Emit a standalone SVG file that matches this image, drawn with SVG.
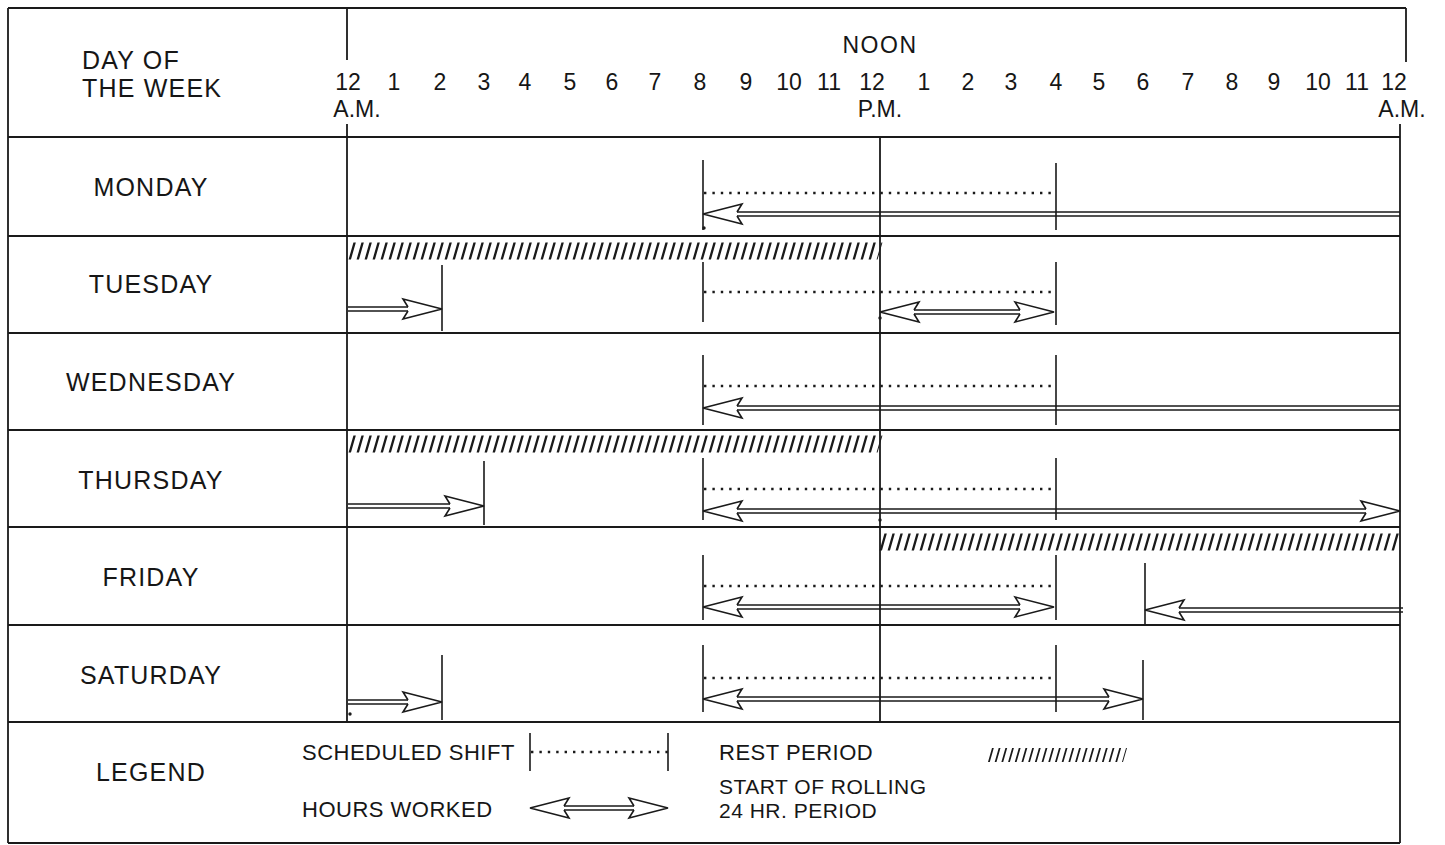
<svg xmlns="http://www.w3.org/2000/svg" xmlns:xlink="http://www.w3.org/1999/xlink" width="1445" height="845" viewBox="0 0 1445 845">
<style>
.t{font-family:"Liberation Sans",Arial,Helvetica,sans-serif;fill:#161616}
.lbl{font-size:25px;text-anchor:middle;letter-spacing:1.2px}
.num{font-size:23px;text-anchor:middle}
.leg{font-size:22px;letter-spacing:0.5px}
.frame{stroke:#1a1a1a;stroke-width:1.8;fill:none}
.tick{stroke:#1a1a1a;stroke-width:1.6;fill:none}
.dot{stroke:#1a1a1a;stroke-width:2.6;stroke-dasharray:2.4 6;fill:none}
.shaft{stroke:#1a1a1a;stroke-width:1.4;fill:none}
.head{fill:#fff;stroke:#1a1a1a;stroke-width:1.6;stroke-linejoin:miter}
.hatch{stroke:#1a1a1a;stroke-width:17;stroke-dasharray:2.4 5.6;fill:none}
.mark{fill:#1a1a1a}
</style>
<defs>
<path id="hl" class="head" d="M34,-2 L39,-10 L0,0 L39,10 L34,2"/>
<path id="hr" class="head" d="M-34,-2 L-39,-10 L0,0 L-39,10 L-34,2"/>
</defs>
<rect width="1445" height="845" fill="#fff"/>

<g id="grid">
<path class="frame" d="M8,8 H1406 M8,8 V843 M8,137 H1400 M8,236 H1400 M8,333 H1400 M8,430 H1400 M8,527 H1400 M8,625 H1400 M8,722 H1400 M8,843 H1400"/>
<path class="frame" d="M1406,8 V62 M1400,124 V843 M347,8 V60 M347,124 V722 M880,137 V722"/>
</g>

<g id="header">
<text class="t lbl" x="82" y="69" style="text-anchor:start">DAY OF</text>
<text class="t lbl" x="82" y="97" style="text-anchor:start">THE WEEK</text>
<text class="t num" x="880" y="53" style="letter-spacing:1.5px">NOON</text>
<g class="t num">
<text x="348" y="90">12</text><text x="394" y="90">1</text><text x="440" y="90">2</text><text x="484" y="90">3</text>
<text x="525" y="90">4</text><text x="570" y="90">5</text><text x="612" y="90">6</text><text x="655" y="90">7</text>
<text x="700" y="90">8</text><text x="746" y="90">9</text><text x="789" y="90">10</text><text x="829" y="90">11</text>
<text x="872" y="90">12</text><text x="924" y="90">1</text><text x="968" y="90">2</text><text x="1011" y="90">3</text>
<text x="1056" y="90">4</text><text x="1099" y="90">5</text><text x="1143" y="90">6</text><text x="1188" y="90">7</text>
<text x="1232" y="90">8</text><text x="1274" y="90">9</text><text x="1318" y="90">10</text><text x="1357" y="90">11</text>
<text x="1394" y="90">12</text>
</g>
<text class="t num" x="357" y="117">A.M.</text>
<text class="t num" x="880" y="117">P.M.</text>
<text class="t num" x="1402" y="117">A.M.</text>
</g>

<g id="monday">
<text class="t lbl" x="151" y="196">MONDAY</text>
<path class="tick" d="M703,160 V230 M1056,163 V230"/>
<path class="dot" d="M704,193 H1056"/>
<path class="shaft" d="M737,212 H1400 M737,216 H1400"/>
<use xlink:href="#hl" x="703" y="214"/>
<circle class="mark" cx="704" cy="228" r="1.7"/>
</g>

<g id="tuesday">
<text class="t lbl" x="151" y="293">TUESDAY</text>
<g transform="translate(0,251) skewX(-16)"><path class="hatch" d="M351,0 H880"/></g>
<path class="tick" d="M442,265 V331 M703,262 V322 M1056,262 V325"/>
<path class="dot" d="M704,292 H1056"/>
<path class="shaft" d="M348,307 H408 M348,311 H408"/>
<use xlink:href="#hr" x="442" y="309"/>
<path class="shaft" d="M914,310 H1020 M914,314 H1020"/>
<use xlink:href="#hl" x="880" y="312"/>
<use xlink:href="#hr" x="1054" y="312"/>
<circle class="mark" cx="880" cy="318" r="1.7"/>
</g>

<g id="wednesday">
<text class="t lbl" x="151" y="391">WEDNESDAY</text>
<path class="tick" d="M703,355 V425 M1056,355 V425"/>
<path class="dot" d="M704,386 H1056"/>
<path class="shaft" d="M737,406 H1400 M737,410 H1400"/>
<use xlink:href="#hl" x="703" y="408"/>
</g>

<g id="thursday">
<text class="t lbl" x="151" y="489">THURSDAY</text>
<g transform="translate(0,444) skewX(-16)"><path class="hatch" d="M351,0 H880"/></g>
<path class="tick" d="M484,461 V525 M703,458 V520 M1056,458 V520"/>
<path class="dot" d="M704,489 H1056"/>
<path class="shaft" d="M348,504 H450 M348,508 H450"/>
<use xlink:href="#hr" x="484" y="506"/>
<path class="shaft" d="M737,509 H1366 M737,513 H1366"/>
<use xlink:href="#hl" x="703" y="511"/>
<use xlink:href="#hr" x="1400" y="511"/>
<circle class="mark" cx="880" cy="520" r="1.7"/>
</g>

<g id="friday">
<text class="t lbl" x="151" y="586">FRIDAY</text>
<g transform="translate(0,542) skewX(-16)"><path class="hatch" d="M882,0 H1400"/></g>
<path class="tick" d="M703,555 V620 M1056,555 V620 M1145,563 V625"/>
<path class="dot" d="M704,586 H1056"/>
<path class="shaft" d="M737,605 H1020 M737,609 H1020"/>
<use xlink:href="#hl" x="703" y="607"/>
<use xlink:href="#hr" x="1054" y="607"/>
<path class="shaft" d="M1179,608 H1403 M1179,612 H1403"/>
<use xlink:href="#hl" x="1145" y="610"/>
</g>

<g id="saturday">
<text class="t lbl" x="151" y="684">SATURDAY</text>
<path class="tick" d="M442,655 V720 M703,645 V712 M1056,645 V712 M1143,660 V720"/>
<path class="dot" d="M704,678 H1056"/>
<path class="shaft" d="M348,700 H408 M348,704 H408"/>
<use xlink:href="#hr" x="442" y="702"/>
<path class="shaft" d="M737,697 H1109 M737,701 H1109"/>
<use xlink:href="#hl" x="703" y="699"/>
<use xlink:href="#hr" x="1143" y="699"/>
<circle class="mark" cx="350" cy="714" r="1.7"/>
</g>

<g id="legend">
<text class="t lbl" x="151" y="781">LEGEND</text>
<text class="t leg" x="302" y="760">SCHEDULED SHIFT</text>
<text class="t leg" x="302" y="817">HOURS WORKED</text>
<text class="t leg" x="719" y="760">REST PERIOD</text>
<text class="t leg" x="719" y="794" style="font-size:21px">START OF ROLLING</text>
<text class="t leg" x="719" y="818" style="font-size:21px">24 HR. PERIOD</text>
<path class="tick" d="M530,733 V771 M668,733 V771"/>
<path class="dot" d="M531,752 H668"/>
<path class="shaft" d="M564,806 H634 M564,810 H634"/>
<use xlink:href="#hl" x="530" y="808"/>
<use xlink:href="#hr" x="668" y="808"/>
<g transform="translate(0,755) skewX(-16)"><path class="hatch" style="stroke-width:14;stroke-dasharray:1.8 4.9" d="M990,0 H1125"/></g>
</g>
</svg>
